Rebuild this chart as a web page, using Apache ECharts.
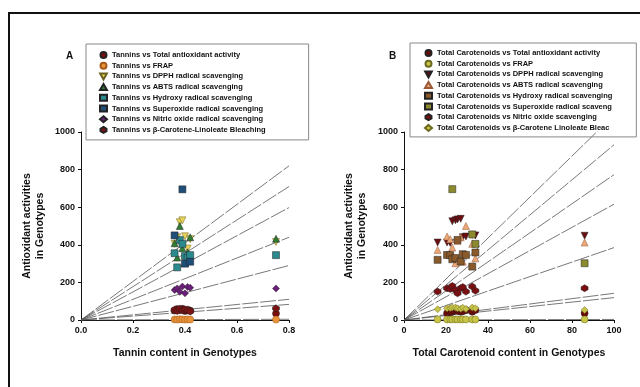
<!DOCTYPE html>
<html>
<head>
<meta charset="utf-8">
<script src="https://cdn.jsdelivr.net/npm/echarts@6/dist/echarts.min.js"></script>
<style>
  html, body { margin: 0; padding: 0; background: #fff; }
  #chart { width: 640px; height: 387px; }
</style>
</head>
<body>
<div id="chart"></div>
<script>
// panel A: tannin content (x) of genotypes
const tanninX = [0.36, 0.37, 0.38, 0.39, 0.40, 0.41, 0.42, 0.75];
const tanTAA = [50, 58, 52, 60, 48, 55, 50, 35];
const tanFRAP = [3, 2, 4, 3, 2, 3, 2, 2];
const tanDPPH = [405, 440, 520, 530, 445, 380, 430, 415];
const tanABTS = [408, 332, 500, 382, 302, 360, 440, 432];
const tanOH = [355, 280, 425, 405, 340, 330, 345, 345];
const tanSO = [450, null, null, 695, 300, null, 310, null];
const tanNO = [160, 168, 150, 178, 142, 176, 172, 168];
const tanBC = [55, 48, 60, 52, 56, 50, 45, 62];
const tanFitX = [0, 0.8];
const tanFitEnd = [820, 710, 598, 440, 290, 110, 83, 4];

// panel B: total carotenoid content (x) of genotypes
const caroX = [16, 20.5, 22, 23, 24.5, 25.5, 27, 28, 29.5, 32.5, 34, 86];
const caroTAA = [null, 36, 40, 44, 50, 48, 44, 46, 53, 44, 53, 36];
const caroFRAP = [3, 3, 3, 3, 3, 3, 3, 3, 3, 3, 3, 3];
const caroDPPH = [412, 412, 410, 525, 530, 535, 538, 440, 444, 453, 450, 448];
const caroABTS = [373, 444, 430, 385, 302, 420, 440, 310, 500, 405, 328, 412];
const caroOH = [320, 346, 345, 323, 330, 426, 311, 350, 346, 284, 359, null];
const caroSO = [null, null, null, 696, null, null, null, null, null, 455, 405, 302];
const caroNO = [151, 169, 165, 181, 160, 142, 169, 175, 151, 178, 156, 169];
const caroBC = [57, 62, 64, 67, 66, 62, 60, 65, 59, 66, 62, 53];
const caroFitX = [0, 100];
const caroFitEnd = [1090, 932, 773, 616, 385, 142, 119, 3];

const tanNames = [
  'Tannins vs Total antioxidant activity',
  'Tannins vs FRAP',
  'Tannins vs DPPH radical scavenging',
  'Tannins vs ABTS radical scavenging',
  'Tannins vs Hydroxy radical scavenging',
  'Tannins vs Superoxide radical scavenging',
  'Tannins vs Nitric oxide radical scavenging',
  'Tannins vs β-Carotene-Linoleate Bleaching'
];
const caroNames = [
  'Total Carotenoids vs Total antioxidant activity',
  'Total Carotenoids vs FRAP',
  'Total Carotenoids vs DPPH radical scavenging',
  'Total Carotenoids vs ABTS radical scavenging',
  'Total Carotenoids vs Hydroxy radical scavenging',
  'Total Carotenoids vs Superoxide radical scaveng',
  'Total Carotenoids vs Nitric oxide scavenging',
  'Total Carotenoids vs β-Carotene Linoleate Bleac'
];

const DOWN_TRI = 'path://M0,0L10,0L5,9Z';
const HEX = 'path://M5,0L10,3L10,7L5,10L0,7L0,3Z';

const font = 'Liberation Sans, Arial, sans-serif';

function scatter(name, xs, ys, idx, symbol, color, border) {
  const data = [];
  xs.forEach((x, i) => { if (ys[i] != null) data.push([x, ys[i]]); });
  return {
    name: name,
    type: 'scatter',
    xAxisIndex: idx,
    yAxisIndex: idx,
    symbol: symbol,
    symbolSize: 7,
    data: data,
    itemStyle: { color: color, borderColor: border || '#222', borderWidth: 0.5, opacity: 1 }
  };
}

function fitLines(xs, ends, idx) {
  return ends.map(v => ({
    type: 'line',
    xAxisIndex: idx,
    yAxisIndex: idx,
    data: [[xs[0], 0], [xs[1], v]],
    symbol: 'none',
    silent: true,
    clip: true,
    lineStyle: { color: '#555', width: 0.8, type: [16, 2] },
    z: 1
  }));
}

const series = [].concat(
  fitLines(tanFitX, tanFitEnd, 0),
  fitLines(caroFitX, caroFitEnd, 1),
  [
    scatter(tanNames[0], tanninX, tanTAA, 0, 'circle', '#7b0d0d'),
    scatter(tanNames[1], tanninX, tanFRAP, 0, 'circle', '#e8923a', '#a55a1c'),
    scatter(tanNames[2], tanninX, tanDPPH, 0, DOWN_TRI, '#e8d35a', '#6a6020'),
    scatter(tanNames[3], tanninX, tanABTS, 0, 'triangle', '#2e7d32'),
    scatter(tanNames[4], tanninX, tanOH, 0, 'rect', '#2b8a8e'),
    scatter(tanNames[5], tanninX, tanSO, 0, 'rect', '#1f4e79'),
    scatter(tanNames[6], tanninX, tanNO, 0, 'diamond', '#6b1f7b'),
    scatter(tanNames[7], tanninX, tanBC, 0, HEX, '#7a1212'),
    scatter(caroNames[0], caroX, caroTAA, 1, 'circle', '#6e0a0a'),
    scatter(caroNames[1], caroX, caroFRAP, 1, 'circle', '#c9c547', '#6b6a20'),
    scatter(caroNames[2], caroX, caroDPPH, 1, DOWN_TRI, '#6b0e12'),
    scatter(caroNames[3], caroX, caroABTS, 1, 'triangle', '#e8a878', '#9a5a38'),
    scatter(caroNames[4], caroX, caroOH, 1, 'rect', '#8a5a2b'),
    scatter(caroNames[5], caroX, caroSO, 1, 'rect', '#8c8a2e'),
    scatter(caroNames[6], caroX, caroNO, 1, HEX, '#7a0f12'),
    scatter(caroNames[7], caroX, caroBC, 1, 'diamond', '#c8c44a', '#6b6a20')
  ]
);

const tickLabel = { fontFamily: font, fontSize: 9, fontWeight: 'bold', color: '#111', margin: 6 };
const axisName = { fontFamily: font, fontSize: 10.5, fontWeight: 'bold', color: '#111' };
const axLine = { show: true, lineStyle: { color: '#111', width: 1 } };
const axTick = { show: true, length: 3, lineStyle: { color: '#111' } };

function legendFor(names, left, top, padding) {
  return {
    data: names,
    orient: 'vertical',
    left: left,
    top: top,
    padding: padding,
    itemWidth: 7,
    itemHeight: 6,
    itemGap: 2.7,
    borderColor: '#888',
    borderWidth: 1,
    selectedMode: false,
    textStyle: { fontFamily: font, fontSize: 7.5, fontWeight: 'bold', color: '#111', lineHeight: 7 }
  };
}

const chart = echarts.init(document.getElementById('chart'));
chart.setOption({
  backgroundColor: '#fff',
  animation: false,
  graphic: [
    { type: 'rect', shape: { x: 9, y: 13, width: 660, height: 400 },
      style: { fill: null, stroke: '#111', lineWidth: 2 } },
    { type: 'text', left: 66, top: 51, style: { text: 'A', font: 'bold 10px ' + font, fill: '#111' } },
    { type: 'text', left: 389, top: 51, style: { text: 'B', font: 'bold 10px ' + font, fill: '#111' } }
  ],
  legend: [
    legendFor(tanNames, 86, 44, [7, 43, 6, 13]),
    legendFor(caroNames, 410, 43, [6, 24, 5, 14])
  ],
  grid: [
    { left: 81, top: 132, width: 208, height: 188 },
    { left: 404, top: 132, width: 210, height: 188 }
  ],
  xAxis: [
    { type: 'value', gridIndex: 0, min: 0, max: 0.8, interval: 0.2,
      name: 'Tannin content in Genotypes', nameLocation: 'middle', nameGap: 28,
      nameTextStyle: axisName, axisLine: axLine, axisTick: axTick, splitLine: { show: false },
      axisLabel: Object.assign({ formatter: v => v.toFixed(1) }, tickLabel) },
    { type: 'value', gridIndex: 1, min: 0, max: 100, interval: 20,
      name: 'Total Carotenoid content in Genotypes', nameLocation: 'middle', nameGap: 28,
      nameTextStyle: axisName, axisLine: axLine, axisTick: axTick, splitLine: { show: false },
      axisLabel: Object.assign({ formatter: v => String(v) }, tickLabel) }
  ],
  yAxis: [
    { type: 'value', gridIndex: 0, min: 0, max: 1000, interval: 200,
      name: 'Antioxidant activities\nin Genotypes', nameLocation: 'middle', nameGap: 34,
      nameTextStyle: Object.assign({ lineHeight: 13 }, axisName),
      axisLine: axLine, axisTick: axTick, splitLine: { show: false },
      axisLabel: Object.assign({ formatter: v => String(v) }, tickLabel) },
    { type: 'value', gridIndex: 1, min: 0, max: 1000, interval: 200,
      name: 'Antioxidant activities\nin Genotypes', nameLocation: 'middle', nameGap: 35,
      nameTextStyle: Object.assign({ lineHeight: 13 }, axisName),
      axisLine: axLine, axisTick: axTick, splitLine: { show: false },
      axisLabel: Object.assign({ formatter: v => String(v) }, tickLabel) }
  ],
  series: series
});
</script>
</body>
</html>
